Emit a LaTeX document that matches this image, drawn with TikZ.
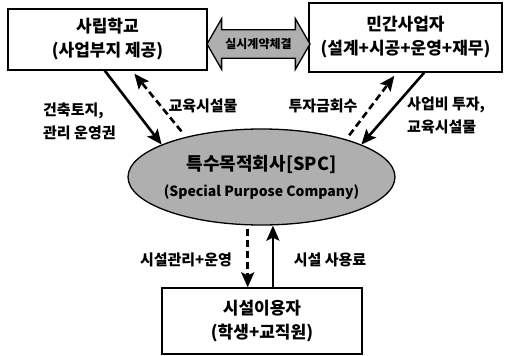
\documentclass[tikz,border=0pt]{standalone}
\usepackage{fontspec}
\setmainfont{Noto Sans CJK KR}
\usetikzlibrary{arrows.meta}
\usetikzlibrary{shapes}
\usetikzlibrary{calc}
\definecolor{spcgray}{RGB}{175,175,175}

\tikzset{
  boxnode/.style={draw, line width=1.3pt, fill=white, align=center,
    font=\bfseries\fontsize{17}{24}\selectfont, inner sep=0pt},
  solidarrow/.style={line width=2.6pt, -{Stealth[length=15pt,width=13pt,inset=3pt]}},
  dasharrow/.style={solidarrow, dash pattern=on 7pt off 4pt},
  lbl/.style={font=\bfseries\fontsize{15}{23}\selectfont, align=left, inner sep=0pt}
}

\begin{document}
\begin{tikzpicture}[x=1pt, y=-1pt]
      \useasboundingbox (0,0) rectangle (507,356);
      \node[boxnode, minimum width=199pt, minimum height=61pt] (school) at (107.5,39.5) {사립학교\\(사업부지 제공)};
      \node[boxnode, minimum width=193pt, minimum height=69pt] (firm) at (405.5,37.5) {민간사업자\\(설계+시공+운영+재무)};
      \node[boxnode, minimum width=200pt, minimum height=66pt] (users) at (262,321) {시설이용자\\(학생+교직원)};
      \node[double arrow, draw, line width=1.3pt, fill=spcgray, minimum height=103pt,
            double arrow head extend=11pt, double arrow tip angle=120,
            inner xsep=0pt, inner ysep=8pt, font=\bfseries\fontsize{12}{12}\selectfont] (contract) at (258.5,44) {실시계약체결};
      \node[ellipse, draw, line width=1.3pt, fill=spcgray, minimum width=267pt, minimum height=96pt, inner sep=0pt] (spc) at (261.5,177) {};
      \node[align=center, font=\bfseries\fontsize{18}{26}\selectfont] (spctitle) at (spc.center) {특수목적회사[SPC]\\{\fontsize{14}{14}\selectfont(Special Purpose Company)}};
      \draw[solidarrow] (school.-95) -- (spc.162);
      \draw[dasharrow, shorten <=7pt, shorten >=4pt] (spc.152) -- (school.-52);
      \draw[dasharrow, shorten <=5pt, shorten >=4pt] (spc.24) -- (firm.-104);
      \draw[solidarrow] (firm.-62) -- (spc.18);
      \draw[dasharrow, shorten <=3pt] (spc.south -| users.113) -- (users.113);
      \draw[solidarrow] (users.72) -- (users.72 |- spc.south);
      \node[lbl, anchor=west] (landlbl) at (43,121.5) {건축토지,\\관리 운영권};
      \node[lbl] (edulbl) at (203,106) {교육시설물};
      \node[lbl] (returnlbl) at (323,106) {투자금회수};
      \node[lbl, anchor=west] (investlbl) at (407,115.5) {사업비 투자,\\교육시설물};
      \node[lbl] (mgmtlbl) at (186,260) {시설관리+운영};
      \node[lbl] (feelbl) at (330,260) {시설 사용료};
\end{tikzpicture}
\end{document}
